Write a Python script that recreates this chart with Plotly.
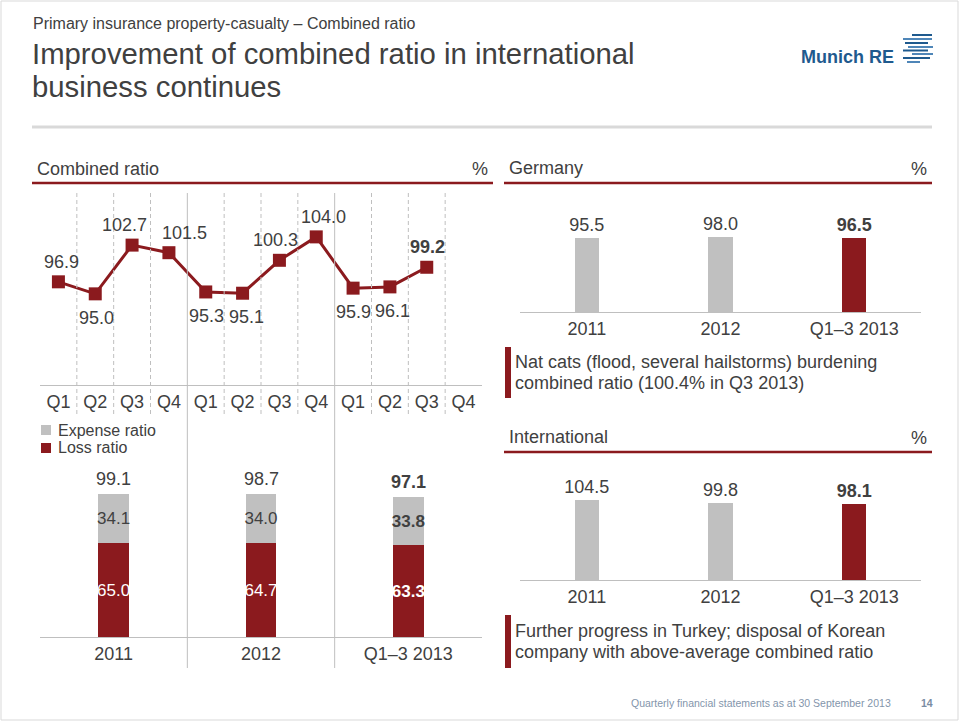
import plotly.graph_objects as go

# ---------------- data ----------------
quarters = ["Q1", "Q2", "Q3", "Q4", "Q1", "Q2", "Q3", "Q4", "Q1", "Q2", "Q3", "Q4"]
combined_q = [96.9, 95.0, 102.7, 101.5, 95.3, 95.1, 100.3, 104.0, 95.9, 96.1, 99.2]
label_side = ["top", "bottom", "top", "top", "bottom", "bottom", "top", "top", "bottom", "bottom", "top"]
years = ["2011", "2012", "Q1–3 2013"]
loss_ratio = [65.0, 64.7, 63.3]
expense_ratio = [34.1, 34.0, 33.8]
combined_total = [99.1, 98.7, 97.1]
germany = [95.5, 98.0, 96.5]
international = [104.5, 99.8, 98.1]

# ---------------- style ----------------
W, H = 960, 722
RED = "#8b1a1e"
GRAY = "#c0c0c0"
TXT = "#404040"
AX = "#bfbfbf"
FONT = "Liberation Sans, Arial, sans-serif"
label_xshift = [3, 1, -8, 16, 1, 4, -4, 7, 0, 3, 1]   # small horizontal label nudges (px)


def px(x):
    return x / W


def py(y):
    return 1 - y / H


def fmt(v, bold=False):
    s = f"{v:.1f}"
    return f"<b>{s}</b>" if bold else s


fig = go.Figure()

# line chart of quarterly combined ratio
fig.add_trace(go.Scatter(
    x=list(range(len(combined_q))), y=combined_q,
    mode="lines+markers",
    line=dict(color=RED, width=3),
    marker=dict(symbol="square", size=13, color=RED),
    cliponaxis=False, showlegend=False, hoverinfo="skip",
    xaxis="x", yaxis="y",
))

# stacked bars: loss + expense
fig.add_trace(go.Bar(
    name="Loss ratio", x=years, y=loss_ratio, width=0.21,
    marker=dict(color=RED, line=dict(width=0)),
    text=[fmt(v, i == 2) for i, v in enumerate(loss_ratio)],
    textposition="inside", insidetextanchor="middle", textangle=0,
    constraintext="none",
    textfont=dict(size=17, color="white", family=FONT),
    xaxis="x2", yaxis="y2", hoverinfo="skip", showlegend=False,
))
fig.add_trace(go.Bar(
    name="Expense ratio", x=years, y=expense_ratio, width=0.21,
    marker=dict(color=GRAY, line=dict(width=0)),
    text=[fmt(v, i == 2) for i, v in enumerate(expense_ratio)],
    textposition="inside", insidetextanchor="middle", textangle=0,
    constraintext="none",
    textfont=dict(size=17, color=TXT, family=FONT),
    xaxis="x2", yaxis="y2", hoverinfo="skip", showlegend=False,
))

# Germany
fig.add_trace(go.Bar(
    x=years, y=germany, width=0.18,
    marker=dict(color=[GRAY, GRAY, RED], line=dict(width=0)),
    text=[fmt(v, i == 2) for i, v in enumerate(germany)],
    textposition="outside", textangle=0, constraintext="none",
    textfont=dict(size=18, color=TXT, family=FONT),
    cliponaxis=False, showlegend=False, hoverinfo="skip",
    xaxis="x3", yaxis="y3",
))

# International
fig.add_trace(go.Bar(
    x=years, y=international, width=0.18,
    marker=dict(color=[GRAY, GRAY, RED], line=dict(width=0)),
    text=[fmt(v, i == 2) for i, v in enumerate(international)],
    textposition="outside", textangle=0, constraintext="none",
    textfont=dict(size=18, color=TXT, family=FONT),
    cliponaxis=False, showlegend=False, hoverinfo="skip",
    xaxis="x4", yaxis="y4",
))

tickfont = dict(size=18, color=TXT, family=FONT)
common_x = dict(showline=True, linecolor=AX, linewidth=1, ticks="", showgrid=False,
                zeroline=False, tickfont=tickfont, fixedrange=True)
cat_x = dict(type="category", categoryorder="array", categoryarray=years,
             range=[-0.5, len(years) - 0.5], autorange=False, **common_x)
common_y = dict(visible=False, showgrid=False, zeroline=False, fixedrange=True)

scale_bl = 1.446   # px per unit, bottom-left bars
scale_r = 0.77     # px per unit, right bars

fig.update_layout(
    width=W, height=H, autosize=False,
    margin=dict(l=0, r=0, t=0, b=0),
    paper_bgcolor="white", plot_bgcolor="rgba(0,0,0,0)",
    font=dict(family=FONT, color=TXT),
    barmode="stack",
    showlegend=False,
    xaxis=dict(domain=[px(40), px(482)], range=[-0.5, 11.5], autorange=False,
               tickvals=list(range(len(quarters))), ticktext=quarters,
               anchor="y", **common_x),
    yaxis=dict(domain=[py(385), py(193)], range=[80.6, 80.6 + 192 / 6.33], anchor="x", **common_y),
    xaxis2=dict(domain=[px(40), px(482)], anchor="y2", **cat_x),
    yaxis2=dict(domain=[py(637), py(470)], range=[0, (637 - 470) / scale_bl], anchor="x2", **common_y),
    xaxis3=dict(domain=[px(520), px(921)], anchor="y3", **cat_x),
    yaxis3=dict(domain=[py(312), py(312 - 140 * scale_r)], range=[0, 140], anchor="x3", **common_y),
    xaxis4=dict(domain=[px(520), px(921)], anchor="y4", **cat_x),
    yaxis4=dict(domain=[py(580), py(580 - 140 * scale_r)], range=[0, 140], anchor="x4", **common_y),
)

shapes = []
# slide frame
shapes.append(dict(type="rect", xref="paper", yref="paper", x0=px(1), x1=px(958), y0=py(720), y1=py(1),
                   line=dict(color="#d9d9d9", width=1)))
# title separator
shapes.append(dict(type="line", xref="paper", yref="paper", x0=px(32), x1=px(932), y0=py(127), y1=py(127),
                   line=dict(color="#d9d9d9", width=3)))
# red header lines
for x0, x1, y in [(32, 493, 183), (504, 932, 183), (504, 932, 452)]:
    shapes.append(dict(type="line", xref="paper", yref="paper", x0=px(x0), x1=px(x1), y0=py(y), y1=py(y),
                       line=dict(color=RED, width=2.5)))
# quarter separators
for i in range(len(quarters) - 1):
    b = i + 0.5
    year_break = (i % 4 == 3)
    shapes.append(dict(type="line", xref="x", yref="paper", x0=b, x1=b,
                       y0=py(193), y1=py(668 if year_break else 415),
                       line=dict(color=AX, width=1, dash="solid" if year_break else "4px,3px")))
# note marker bars
for y0, y1 in [(347, 398), (615, 668)]:
    shapes.append(dict(type="rect", xref="paper", yref="paper", x0=px(505), x1=px(511), y0=py(y1), y1=py(y0),
                       fillcolor=RED, line=dict(width=0)))
# legend swatches (Expense ratio, Loss ratio)
for (y0, y1), col in zip([(425, 435), (443, 453)], [GRAY, RED]):
    shapes.append(dict(type="rect", xref="paper", yref="paper", x0=px(41), x1=px(51), y0=py(y1), y1=py(y0),
                       fillcolor=col, line=dict(width=0)))
# logo stripes
stripes = [(912, 932, 35), (903, 932, 39), (905, 928, 43), (908, 933, 47),
           (903, 928, 50.5), (912, 933, 54), (903, 930, 58), (907, 920, 62)]
for k, (x0, x1, y) in enumerate(stripes):
    shapes.append(dict(type="line", xref="paper", yref="paper", x0=px(x0), x1=px(x1), y0=py(y), y1=py(y),
                       line=dict(color="#1f5a8e" if k % 2 == 0 else "#4f86b8", width=2)))
fig.update_layout(shapes=shapes)

ann = []


def txt(x, y, s, size, color=TXT, xanchor="left", bold=False):
    ann.append(dict(x=px(x), y=py(y), xref="paper", yref="paper", text=f"<b>{s}</b>" if bold else s,
                    showarrow=False, xanchor=xanchor, yanchor="middle",
                    font=dict(size=size, color=color, family=FONT)))


txt(31, 23, "Primary insurance property-casualty – Combined ratio", 16)
txt(30, 54, "Improvement of combined ratio in international", 29.3)
txt(30, 87, "business continues", 29.3)
txt(896, 57, "Munich RE", 18, color="#1f5a8e", xanchor="right", bold=True)

txt(35, 169, "Combined ratio", 18)
txt(490, 169, "%", 18, xanchor="right")
txt(507, 168, "Germany", 18)
txt(929, 169, "%", 18, xanchor="right")
txt(507, 437, "International", 18)
txt(929, 438, "%", 18, xanchor="right")

txt(56, 430, "Expense ratio", 16)
txt(56, 448, "Loss ratio", 16)

txt(513, 362, "Nat cats (flood, several hailstorms) burdening", 18)
txt(513, 383, "combined ratio (100.4% in Q3 2013)", 18)
txt(513, 631, "Further progress in Turkey; disposal of Korean", 18)
txt(513, 652, "company with above-average combined ratio", 18)

txt(893, 703, "Quarterly financial statements as at 30 September 2013", 10.5, color="#8395ab", xanchor="right")
txt(935, 703, "14", 10.5, color="#7a8ca3", xanchor="right", bold=True)

# value labels on the quarterly line
for i, (v, side) in enumerate(zip(combined_q, label_side)):
    ann.append(dict(x=i, y=v, xref="x", yref="y", text=fmt(v, i == len(combined_q) - 1), showarrow=False,
                    xanchor="center", yanchor="middle", xshift=label_xshift[i],
                    yshift=20 if side == "top" else -24,
                    font=dict(size=18, color=TXT, family=FONT)))

# totals above stacked bars (category index positions)
for i, tot in enumerate(combined_total):
    ann.append(dict(x=i, y=tot, xref="x2", yref="y2", text=fmt(tot, i == 2), showarrow=False,
                    xanchor="center", yanchor="bottom", yshift=3,
                    font=dict(size=18, color=TXT, family=FONT)))

fig.update_layout(annotations=ann)

fig.write_html("out.html", include_plotlyjs=True, config={"displayModeBar": False, "staticPlot": True})
